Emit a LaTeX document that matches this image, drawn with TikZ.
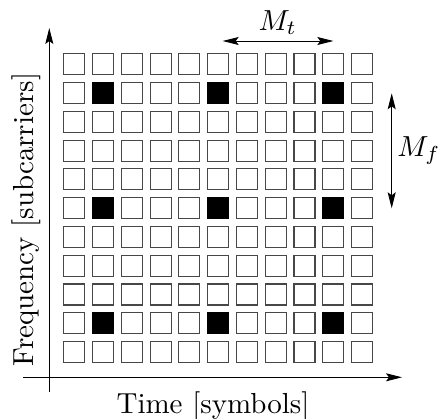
\documentclass[tikz,border=0pt]{standalone}
\usetikzlibrary{arrows.meta}
\begin{document}
\begin{tikzpicture}[x=1pt,y=-1pt,
  cell/.style={rectangle,draw=black!72,line width=1.1pt,minimum width=21pt,minimum height=21pt,inner sep=0pt},
  pilot/.style={cell,fill=black,draw=black},
  axis/.style={line width=0.9pt,-{Stealth[length=16pt,width=8pt,inset=3pt]}},
  dim/.style={line width=0.9pt,{Stealth[length=16pt,width=8pt,inset=3pt]}-{Stealth[length=16pt,width=8pt,inset=3pt]}},
  lbl/.style={inner sep=0pt,font=\normalsize,scale=2.9,transform shape}]
\useasboundingbox (0,0) rectangle (442,418);
\foreach \i in {0,...,10}{
  \foreach \j in {0,...,10}{
    \pgfmathtruncatemacro{\pi}{(\i==1||\i==5||\i==9)&&(\j==1||\j==5||\j==9)}
    \ifnum\pi=1
      \node[pilot] (c-\i-\j) at ({74.3+28.77*\i},{64.3+28.77*\j}) {};
    \else
      \node[cell] (c-\i-\j) at ({74.3+28.77*\i},{64.3+28.77*\j}) {};
    \fi
  }
}
\coordinate (vb) at (49.3,392);
\coordinate (vt) at (49.3,28);
\coordinate (hl) at (23,377.3);
\coordinate (hr) at (402,377.3);
\draw[axis] (vb) -- (vt);
\draw[axis] (hl) -- (hr);
\coordinate (mtl) at (222.7,41);
\coordinate (mtr) at (333.3,41);
\draw[dim] (mtl) -- (mtr);
\coordinate (mft) at (391.7,93.3);
\coordinate (mfb) at (391.7,208.3);
\draw[dim] (mft) -- (mfb);
\node[lbl,anchor=base west] (mt) at (258,30.5) {$M_t$};
\node[lbl,anchor=base east] (mf) at (441,156) {$M_f$};
\node[lbl,anchor=base west] (tl) at (116,413) {Time [symbols]};
\node[lbl,anchor=base west,rotate=90] (fl) at (33.5,367) {Frequency [subcarriers]};
\end{tikzpicture}
\end{document}
